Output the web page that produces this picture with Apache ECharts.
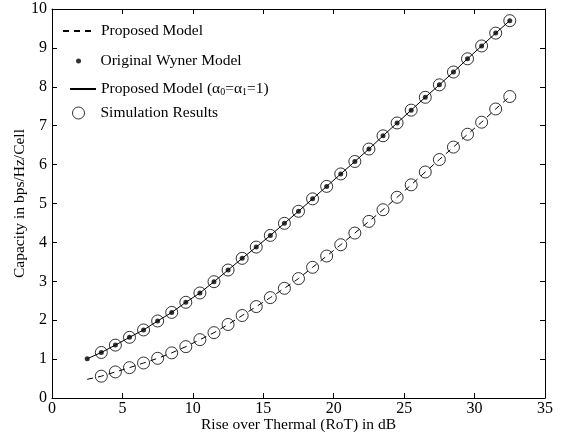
<!DOCTYPE html>
<html>
<head>
<meta charset="utf-8">
<script src="https://cdn.jsdelivr.net/npm/echarts@6/dist/echarts.min.js"></script>
<style>html,body{margin:0;padding:0;background:#fff;}#c{width:562px;height:438px;}</style>
</head>
<body>
<div id="c"></div>
<script>
const rot = [2.5,3.5,4.5,5.5,6.5,7.5,8.5,9.5,10.5,11.5,12.5,13.5,14.5,15.5,16.5,17.5,18.5,19.5,20.5,21.5,22.5,23.5,24.5,25.5,26.5,27.5,28.5,29.5,30.5,31.5,32.5];
const proposedModel = [0.48,0.56,0.67,0.78,0.90,1.02,1.16,1.32,1.50,1.68,1.89,2.12,2.35,2.58,2.82,3.07,3.36,3.65,3.94,4.24,4.54,4.84,5.16,5.48,5.81,6.13,6.45,6.78,7.09,7.43,7.75];
const wynerModel = [1.01,1.17,1.36,1.56,1.75,1.98,2.20,2.46,2.70,2.99,3.29,3.59,3.88,4.18,4.49,4.80,5.12,5.44,5.76,6.08,6.40,6.74,7.07,7.40,7.73,8.05,8.38,8.72,9.05,9.38,9.70];
const proposedModelAlpha = [1.01,1.17,1.36,1.56,1.75,1.98,2.20,2.46,2.70,2.99,3.29,3.59,3.88,4.18,4.49,4.80,5.12,5.44,5.76,6.08,6.40,6.74,7.07,7.40,7.73,8.05,8.38,8.72,9.05,9.38,9.70];
const simRot = [3.5,4.5,5.5,6.5,7.5,8.5,9.5,10.5,11.5,12.5,13.5,14.5,15.5,16.5,17.5,18.5,19.5,20.5,21.5,22.5,23.5,24.5,25.5,26.5,27.5,28.5,29.5,30.5,31.5,32.5];
const simUpper = [1.17,1.36,1.56,1.75,1.98,2.20,2.46,2.70,2.99,3.29,3.59,3.88,4.18,4.49,4.80,5.12,5.44,5.76,6.08,6.40,6.74,7.07,7.40,7.73,8.05,8.38,8.72,9.05,9.38,9.70];
const simLower = [0.56,0.67,0.78,0.90,1.02,1.16,1.32,1.50,1.68,1.89,2.12,2.35,2.58,2.82,3.07,3.36,3.65,3.94,4.24,4.54,4.84,5.16,5.48,5.81,6.13,6.45,6.78,7.09,7.43,7.75];
const xTicks = [0,5,10,15,20,25,30,35];
const yTicks = [0,1,2,3,4,5,6,7,8,9,10];
const names = ['Proposed Model','Original Wyner Model','Proposed Model (α0=α1=1)','Simulation Results'];
const xName = 'Rise over Thermal (RoT) in dB';
const yName = 'Capacity in bps/Hz/Cell';

const FONT = 'Liberation Serif';
const pair = (xs, ys) => xs.map((x, i) => [x, ys[i]]);
const simData = pair(simRot, simUpper).concat(pair(simRot, simLower));

const chart = echarts.init(document.getElementById('c'), null, {renderer: 'canvas'});
const axisCommon = {
  type: 'value',
  axisLine: {show: true, onZero: false, lineStyle: {color: '#000', width: 1}},
  axisTick: {show: true, inside: true, length: 5, lineStyle: {color: '#000'}},
  splitLine: {show: false}
};
const legendText = {fontFamily: FONT, fontSize: 15.5, color: '#000',
  rich: {
    a: {fontFamily: FONT, fontSize: 15.5, color: '#000'},
    s: {fontFamily: FONT, fontSize: 10, color: '#000', verticalAlign: 'bottom', padding: [7, 0, 0, 0]}
  }};
function legendAt(name, left, top, iw, ih, itemStyle) {
  const l = {
    data: [name], left: left, top: top, orient: 'vertical', itemWidth: iw, itemHeight: ih,
    selectedMode: false, textStyle: legendText, padding: 0,
    formatter: function (n) {
      if (n === names[2]) return '{a|Proposed Model (α}{s|0}{a|=α}{s|1}{a|=1)}';
      return n;
    }
  };
  if (itemStyle) l.itemStyle = itemStyle;
  return l;
}
chart.setOption({
  animation: false,
  backgroundColor: '#fff',
  grid: {left: 52, right: 17, top: 9, bottom: 40, containLabel: false, outerBoundsMode: 'none'},
  xAxis: [
    Object.assign({}, axisCommon, {
      min: xTicks[0], max: xTicks[xTicks.length - 1], interval: 5,
      name: xName, nameLocation: 'middle', nameGap: 19, nameMoveOverlap: false,
      nameTextStyle: {fontFamily: FONT, fontSize: 15.5, color: '#000'},
      axisLabel: {fontFamily: FONT, fontSize: 16, color: '#000', margin: 3}
    }),
    Object.assign({}, axisCommon, {
      position: 'top', min: xTicks[0], max: xTicks[xTicks.length - 1], interval: 5,
      axisLabel: {show: false}
    })
  ],
  yAxis: [
    Object.assign({}, axisCommon, {
      min: yTicks[0], max: yTicks[yTicks.length - 1], interval: 1,
      name: yName, nameLocation: 'middle', nameGap: 24, nameMoveOverlap: false,
      nameTextStyle: {fontFamily: FONT, fontSize: 15.5, color: '#000'},
      axisLabel: {fontFamily: FONT, fontSize: 16, color: '#000', margin: 5}
    }),
    Object.assign({}, axisCommon, {
      position: 'right', min: yTicks[0], max: yTicks[yTicks.length - 1], interval: 1,
      axisLabel: {show: false}
    })
  ],
  legend: [
    legendAt(names[0], 62, 23, 33, 10, {opacity: 0}),
    legendAt(names[1], 76, 53, 34, 5, null),
    legendAt(names[2], 69, 81, 26, 10, {opacity: 0}),
    legendAt(names[3], 72, 105, 34, 12, {borderWidth: 1})
  ],
  series: [
    {
      name: names[0], type: 'line', data: pair(rot, proposedModel),
      showSymbol: false, symbol: 'none',
      lineStyle: {color: '#000', width: 1, type: [6, 5]},
      itemStyle: {color: '#000'}, z: 2
    },
    {
      name: names[2], type: 'line', data: pair(rot, proposedModelAlpha),
      showSymbol: false, symbol: 'none',
      lineStyle: {color: '#000', width: 1, type: 'solid'},
      itemStyle: {color: '#000'}, z: 2
    },
    {
      name: names[1], type: 'scatter', data: pair(rot, wynerModel),
      symbol: 'circle', symbolSize: 5,
      itemStyle: {color: '#000'}, z: 3
    },
    {
      name: names[3], type: 'scatter', data: simData,
      symbol: 'circle', symbolSize: 12,
      itemStyle: {color: 'rgba(0,0,0,0)', borderColor: '#000', borderWidth: 1}, z: 4
    }
  ]
});
</script>
</body>
</html>
